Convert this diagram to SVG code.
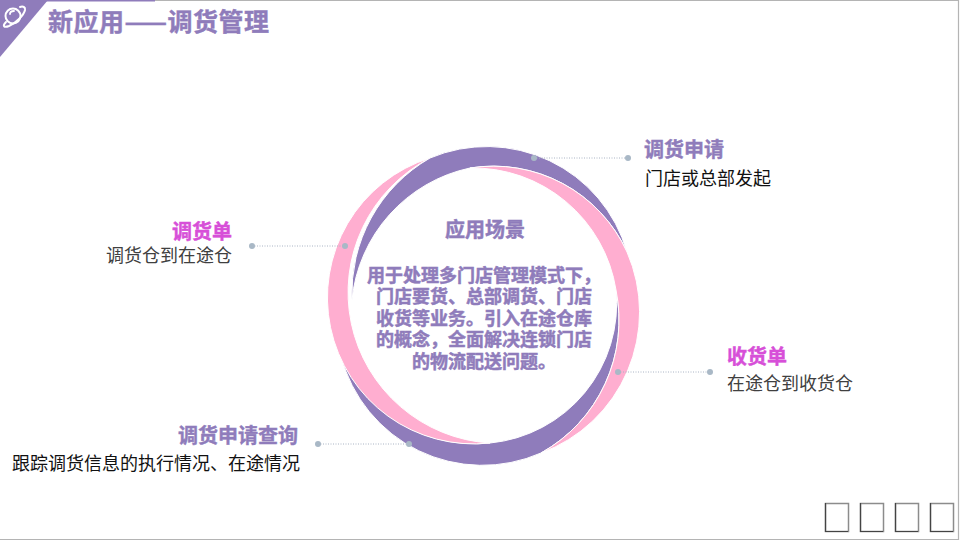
<svg xmlns="http://www.w3.org/2000/svg" width="960" height="540" viewBox="0 0 960 540">
<style>
text{font-family:"Noto Sans CJK SC","Liberation Sans",sans-serif}
.t{font-size:20px;font-weight:700;stroke-width:.4}
.p{fill:#8f7cbb;stroke:#8f7cbb}.m{fill:#d74fd8;stroke:#d74fd8}
.d{font-size:18px;font-weight:400}
.b{font-size:18px;font-weight:700;fill:#8f7cbb;stroke:#8f7cbb;stroke-width:.5;text-anchor:middle}
.pk{fill:#ffaed0;stroke:#fff;stroke-width:1}
.pu{fill:#8f7cbb;stroke:#fff;stroke-width:1}
.ln{stroke:#aab4c4;stroke-width:1;stroke-dasharray:1 1.5;fill:none}
.dot{fill:#a9b8c6}
.sq{fill:#fff;stroke:#8c8c8c;stroke-width:1.5}
.sd{stroke:#444;stroke-width:1.2;fill:none}
</style>
<rect width="960" height="540" fill="#fff"/>
<g id="frame">
<path d="M155 .5H958.5V539.5H0" fill="none" stroke="#b4b4b4" stroke-width="1.2"/>
<rect x="0" y="0" width="155" height="1.5" fill="#8f7cbb"/>
<path d="M0 0H48L0 57Z" fill="#8f7cbb"/>
<g fill="none" stroke="#fff" stroke-linecap="round">
<circle cx="13" cy="16" r="7.5" stroke-width="2"/>
<path d="M6 22C2 26 4 28 9 26C16 23 24 15 25 10C25.500 7 23 6 20 7" stroke-width="2"/>
<path d="M10 14C10 12 12 11 14 11" stroke-width="1.800"/>
</g>
</g>
<text id="title" class="p" x="48" y="31" font-size="25" font-weight="700" stroke-width=".4" textLength="221" lengthAdjust="spacing">新应用——调货管理</text>
<g id="ring">
<path id="purple-bottom" class="pu" d="M341 356A146 146 0 0 0 541 453A152 152 0 0 0 616 290A140 140 0 0 1 490 443A146 146 0 0 1 341 356Z"/>
<path id="pink-left" class="pk" d="M430 158A146.300 146.300 0 0 0 490 443A151 151 0 0 1 430 158Z"/>
<path id="purple-top" class="pu" d="M430 158A146 146 0 0 1 627 252A147 147 0 0 0 470 168A150 150 0 0 0 352 300A156 156 0 0 1 430 158Z"/>
<path id="pink-right" class="pk" d="M470 168A147 147 0 0 1 627 252A150 150 0 0 1 541 453A152 152 0 0 0 616 290A144.700 144.700 0 0 0 470 168Z"/>
</g>
<g id="connectors">
<path class="ln" d="M534 158H628M252 246H345M618 372H710M318 444H409"/>
</g>
<g id="dots">
<circle class="dot" cx="534" cy="158" r="3"/><circle class="dot" cx="628" cy="158" r="3"/>
<circle class="dot" cx="252" cy="246" r="3"/><circle class="dot" cx="345" cy="246" r="3"/>
<circle class="dot" cx="618" cy="372" r="3"/><circle class="dot" cx="710" cy="372" r="3"/>
<circle class="dot" cx="318" cy="444" r="3"/><circle class="dot" cx="409" cy="444" r="3"/>
</g>
<g id="center">
<text class="b" x="485" y="237" style="font-size:20px">应用场景</text>
<text class="b" x="484" y="282">用于处理多门店管理模式下，</text>
<text class="b" x="484" y="303">门店要货、总部调货、门店</text>
<text class="b" x="484" y="325">收货等业务。引入在途仓库</text>
<text class="b" x="484" y="346">的概念，全面解决连锁门店</text>
<text class="b" x="484" y="368">的物流配送问题。</text>
</g>
<g id="node-apply">
<text class="t p" x="644" y="157">调货申请</text>
<text class="d" x="645" y="185" fill="#111">门店或总部发起</text>
</g>
<g id="node-transfer">
<text class="t m" x="232" y="239" text-anchor="end">调货单</text>
<text class="d" x="232" y="262" text-anchor="end" fill="#404040">调货仓到在途仓</text>
</g>
<g id="node-receive">
<text class="t m" x="727" y="364">收货单</text>
<text class="d" x="727" y="390" fill="#404040">在途仓到收货仓</text>
</g>
<g id="node-query">
<text class="t p" x="298" y="443" text-anchor="end">调货申请查询</text>
<text class="d" x="300" y="470" text-anchor="end" fill="#111">跟踪调货信息的执行情况、在途情况</text>
</g>
<g id="squares">
<rect class="sq" x="825.5" y="503.5" width="23" height="28"/><path class="sd" d="M825.5 503V531.5H848"/>
<rect class="sq" x="860.5" y="503.5" width="23" height="28"/><path class="sd" d="M860.5 503V531.5H883"/>
<rect class="sq" x="895.5" y="503.5" width="23" height="28"/><path class="sd" d="M895.5 503V531.5H918"/>
<rect class="sq" x="930.5" y="503.5" width="23" height="28"/><path class="sd" d="M930.5 503V531.5H953"/>
</g>
</svg>
